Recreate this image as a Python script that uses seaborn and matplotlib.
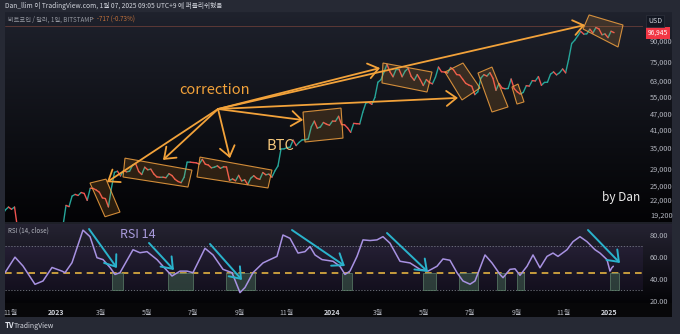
import numpy as np
import pandas as pd
import matplotlib
matplotlib.use("Agg")
import matplotlib.pyplot as plt
import matplotlib.dates as mdates
import matplotlib.transforms as mtrans
from matplotlib.patches import Polygon, Rectangle
from matplotlib.ticker import NullLocator
import seaborn as sns

# ---------------- data ----------------
price_start = "2022-10-22"          # BTC/USD daily closes, sampled every 4 days
price_step = "4D"
close = [
    19200, 20100, 20600, 20200, 20600, 17000, 16900, 16700, 16600, 16450,
    16950, 16950, 17130, 17780, 16780, 16830, 16840, 16630, 16680, 16950,
    17440, 20900, 20680, 22700, 23050, 22830, 23440, 23250, 21860, 24340,
    24300, 23950, 23500, 22350, 22210, 20630, 24370, 28030, 28320, 27140,
    28480, 28170, 28330, 29900, 30300, 28250, 27500, 29340, 28670, 28850,
    27630, 26920, 26830, 26850, 26720, 27700, 27250, 26350, 25850, 25580,
    26840, 30690, 30700, 30590, 30510, 30170, 31470, 30140, 29910, 29180,
    29350, 29700, 29040, 29440, 29400, 26100, 26440, 26010, 27300, 25970,
    26250, 25160, 26600, 27210, 26580, 26350, 27990, 27430, 27600, 26860,
    28420, 29670, 34500, 34530, 34940, 35040, 37320, 35550, 36600, 37400,
    37450, 37720, 41990, 44170, 41490, 41930, 43650, 43010, 42580, 44180,
    44160, 46120, 42850, 42740, 41580, 40000, 43300, 43190, 43090, 47770,
    51840, 52140, 51280, 54500, 62400, 63800, 68300, 73100, 68400, 65500,
    69900, 69900, 65500, 68900, 70600, 65700, 63500, 66800, 63800, 60600,
    63900, 62300, 61500, 65200, 71400, 68500, 68300, 67700, 71100, 69600,
    66800, 66500, 64100, 61800, 60900, 60200, 55900, 57300, 64700, 66700,
    65900, 67900, 64600, 58100, 61700, 59300, 58900, 59000, 64200, 59000,
    57300, 56200, 57000, 60500, 60300, 63300, 63100, 65600, 60700, 62300,
    62400, 67000, 68400, 66600, 67900, 70200, 67800, 76500, 88000, 90600,
    94200, 98000, 95600, 95900, 99900, 96600, 101400, 100200, 95100, 95800,
    92700, 98100, 96900,
]
last_price_label = "96,945"
hline_price = 102400

base_date = "2022-11-01"           # day offsets below count from this date
rsi_day = [
    -6.6, 6.6, 17.2, 33.0, 43.6, 55.5, 68.7, 72.7, 81.9, 96.4,
    105.7, 114.9, 122.9, 132.1, 138.7, 145.3, 162.5, 171.7, 181.0, 194.2,
    202.1, 214.0, 224.6, 233.8, 241.7, 257.6, 268.2, 281.4, 293.3, 303.8,
    310.4, 321.0, 334.2, 343.5, 352.7, 360.6, 369.9, 380.5, 389.7, 396.3,
    402.9, 412.2, 426.7, 435.9, 442.5, 449.1, 458.4, 466.3, 475.6, 484.8,
    492.7, 502.0, 515.2, 528.4, 541.6, 552.2, 564.1, 572.0, 581.2, 590.5,
    598.4, 607.7, 614.3, 627.5, 636.7, 647.3, 651.3, 660.5, 667.1, 673.7,
    683.0, 690.9, 700.1, 709.4, 717.3, 723.9, 735.8, 743.7, 752.9, 762.2,
    772.8, 779.4, 788.6, 792.6, 795.0, 797.0,
]
rsi_value = [
    46, 60, 52, 35.5, 38.5, 50.7, 47.4, 46, 55, 84.4,
    78.5, 59.5, 57.8, 50.7, 44.4, 46, 66.7, 64, 65, 57.8,
    51.8, 43, 47.4, 47.4, 46, 68, 62, 49, 46, 28,
    32.6, 46, 54.8, 57.8, 60.7, 80, 77, 63.7, 65, 69.6,
    62, 57.8, 56.3, 51.8, 44.4, 47.4, 60.7, 75.6, 75, 75.6,
    78.5, 72.6, 56.3, 54.8, 49, 47.4, 51.8, 58.4, 57.2, 46,
    38.5, 35.6, 38.5, 62, 54.8, 44.4, 41.5, 49, 49.5, 43.6,
    51.8, 62, 50.4, 60.7, 63.7, 60.7, 66.7, 74, 78.5, 74,
    66.7, 63.7, 57.8, 47.4, 50.4, 51.8,
]

price_ticks = [19200, 22000, 25000, 29000, 35000, 41000, 47000, 55000, 63000, 75000, 90000]
rsi_ticks = [20, 40, 60, 80]
time_ticks = ["2022-11-01", "2023-01-01", "2023-03-01", "2023-05-01", "2023-07-01",
              "2023-09-01", "2023-11-01", "2024-01-01", "2024-03-01", "2024-05-01",
              "2024-07-01", "2024-09-01", "2024-11-01", "2025-01-01"]
time_labels = ["11월", "2023", "3월", "5월", "7월", "9월", "11월", "2024",
               "3월", "5월", "7월", "9월", "11월", "2025"]
rsi_upper, rsi_lower, rsi_mid = 70, 30, 46

# hand-drawn annotations (day offset, value)
hub = (274.8, 49200)
corr_tips = [(128.1, 25700), (202.1, 31300), (290.6, 31800), (387.1, 44600),
             (488.8, 70800), (591.8, 54300), (759.6, 103700)]
corr_boxes = [
    [(105.7, 25500), (126.8, 26400), (145.3, 19700), (125.5, 18900)],
    [(151.9, 31800), (240.4, 28600), (235.1, 24600), (149.3, 26900)],
    [(251.0, 32100), (346.1, 28600), (340.8, 24400), (247.0, 26900)],
    [(387.1, 47900), (437.3, 49600), (439.9, 38000), (389.7, 36700)],
    [(492.7, 74000), (557.5, 68300), (550.9, 57200), (491.4, 62000)],
    [(574.6, 68300), (598.4, 74000), (620.9, 59300), (597.1, 53300)],
    [(618.2, 67700), (636.7, 71400), (657.9, 50100), (636.7, 47900)],
    [(663.1, 59800), (671.1, 61400), (679.0, 52400), (669.7, 51400)],
    [(757.0, 100100), (765.0, 113400), (809.8, 103700), (803.2, 85300)],
]
rsi_boxes = [(134.7, 149.3), (208.7, 241.7), (285.3, 323.6), (438.6, 451.8),
             (545.6, 562.7), (593.1, 618.2), (643.3, 653.9), (669.7, 679.0),
             (792.6, 804.5)]
rsi_arrows = [((104.4, 85.4), (141.3, 50.2)), ((183.6, 72.8), (216.6, 48.4)),
              ((264.2, 71.9), (306.5, 39.4)), ((372.5, 84.5), (442.5, 52.0)),
              ((498.0, 81.8), (552.2, 46.6)), ((763.5, 84.5), (805.8, 54.7))]
text_correction = (270.8, 58200)
text_btc = (356.7, 35400)
text_bydan = (807.1, 22500)
text_rsi = (169.1, 80.9)
x_range = (-6.6, 836.2)
price_range = (18040, 116400)
rsi_range = (18.63, 89.93)

# ---------------- style ----------------
sns.set_theme(style="dark")
plt.rcParams["font.family"] = ["Noto Sans CJK KR", "DejaVu Sans"]
plt.rcParams["axes.unicode_minus"] = False

W, H = 680, 334
fig = plt.figure(figsize=(W / 100, H / 100), dpi=100)

BASE = pd.Timestamp(base_date)
def dn(d):
    return mdates.date2num(BASE + pd.Timedelta(days=float(d)))

# background (outer frame + dark gradient panes)
img = np.zeros((H, W, 3))
img[:, :] = np.array([38, 41, 52]) / 255
def grad(r0, r1, c0, c1, power=1.0):
    t = np.linspace(0, 1, r1 - r0)[:, None] ** power
    col = (np.array(c0)[None, :] * (1 - t) + np.array(c1)[None, :] * t) / 255
    img[r0:r1, 5:672] = col[:, None, :]
grad(12, 222, (31, 34, 45), (3, 3, 5), 0.9)
img[222:224, 5:672] = np.array([30, 32, 40]) / 255
grad(224, 303, (37, 35, 50), (4, 4, 7), 1.0)
img[303:317, 5:672] = np.array([7, 7, 9]) / 255
bg = fig.add_axes([0, 0, 1, 1], zorder=0)
bg.imshow(img, extent=(0, 1, 0, 1), aspect="auto", interpolation="bilinear")
bg.set_axis_off()

def fx(px):
    return px / W
def fy(py):
    return 1 - py / H

# ---------------- price pane ----------------
ax = fig.add_axes([fx(5), fy(222), (643 - 5) / W, (222 - 12) / H], zorder=2)
ax.set_facecolor("none")
dates = pd.date_range(price_start, periods=len(close), freq=price_step)
rows = []
for i in range(1, len(close)):
    d = "up" if close[i] >= close[i - 1] else "down"
    rows.append((i, dates[i - 1], close[i - 1], d))
    rows.append((i, dates[i], close[i], d))
seg = pd.DataFrame(rows, columns=["seg", "date", "close", "dir"])
sns.lineplot(data=seg, x="date", y="close", hue="dir", units="seg", estimator=None,
             palette={"up": "#26a69a", "down": "#ef5350"}, lw=1.0, legend=False,
             sort=False, ax=ax, zorder=3)
ax.set_yscale("log")
ax.set_ylim(*price_range)
ax.set_xlim(dn(x_range[0]), dn(x_range[1]))
ax.yaxis.set_minor_locator(NullLocator())
ax.yaxis.tick_right()
ax.set_yticks(price_ticks)
ax.set_yticklabels([f"{v:,}" for v in price_ticks])
ax.tick_params(axis="y", length=0, pad=5, labelsize=5.3, labelcolor="#b2b5be")
ax.tick_params(axis="x", length=0, labelbottom=False)
ax.set_xlabel("")
ax.set_ylabel("")
ax.grid(False)
for s in ax.spines.values():
    s.set_visible(False)

ax.axhline(hline_price, color="#c0604a", lw=0.6, alpha=0.45, zorder=1)

orange = "#f2a23a"
for box in corr_boxes:
    verts = [(dn(d), p) for d, p in box]
    ax.add_patch(Polygon(verts, closed=True, facecolor=(0.95, 0.62, 0.2, 0.16),
                         edgecolor=(0.95, 0.63, 0.25, 0.85), lw=0.8, zorder=4))
for d, p in corr_tips:
    ax.annotate("", xy=(dn(d), p), xytext=(dn(hub[0]), hub[1]),
                arrowprops=dict(arrowstyle="->,head_length=0.6,head_width=0.45",
                                color=orange, lw=1.3, shrinkA=0, shrinkB=0),
                zorder=5)
ax.text(dn(text_correction[0]), text_correction[1], "correction", color=orange,
        fontsize=10.5, ha="center", va="center", zorder=6)
ax.text(dn(text_btc[0]), text_btc[1], "BTC", color="#f4c77c",
        fontsize=10.5, ha="center", va="center", zorder=6)
ax.text(dn(text_bydan[0]), text_bydan[1], "by Dan", color="#ececec",
        fontsize=8.5, ha="center", va="center", zorder=6)

# last price label and USD box
trans = mtrans.blended_transform_factory(ax.transAxes, ax.transData)
ax.text(1.008, close[-1], last_price_label, transform=trans, fontsize=4.8,
        color="white", ha="left", va="center", zorder=7, clip_on=False,
        bbox=dict(boxstyle="square,pad=0.3", fc="#f23645", ec="none"))
fig.text(fx(648), fy(21), "USD", fontsize=5, color="#d1d4dc", ha="left", va="center",
         bbox=dict(boxstyle="square,pad=0.35", fc="#131722", ec="#2a2e39", lw=0.6))

# ---------------- RSI pane ----------------
ax2 = fig.add_axes([fx(5), fy(303), (643 - 5) / W, (303 - 224) / H], zorder=2)
ax2.set_facecolor("none")
rsi_dates = [BASE + pd.Timedelta(days=float(d)) for d in rsi_day]
ax2.axhspan(rsi_lower, rsi_upper, color="#7e57c2", alpha=0.09, lw=0, zorder=0)
ax2.axhline(rsi_upper, color="#787b86", lw=0.6, ls=(0, (1.5, 2)), zorder=1)
ax2.axhline(rsi_lower, color="#787b86", lw=0.6, ls=(0, (1.5, 2)), zorder=1)
ax2.axhline(rsi_mid, color="#e3b341", lw=1.2, ls=(0, (4, 3)), zorder=2)
for a, b in rsi_boxes:
    ax2.add_patch(Rectangle((dn(a), rsi_lower), dn(b) - dn(a), rsi_mid - rsi_lower,
                            facecolor=(0.25, 0.38, 0.31, 0.55),
                            edgecolor=(0.38, 0.52, 0.43, 0.8), lw=0.6, zorder=2))
sns.lineplot(x=rsi_dates, y=rsi_value, color="#a892e2", lw=1.1, ax=ax2, zorder=3)
for (d0, v0), (d1, v1) in rsi_arrows:
    ax2.annotate("", xy=(dn(d1), v1), xytext=(dn(d0), v0),
                 arrowprops=dict(arrowstyle="->,head_length=0.6,head_width=0.45",
                                 color="#2ab3cc", lw=1.4, shrinkA=0, shrinkB=0),
                 zorder=5)
ax2.text(dn(text_rsi[0]), text_rsi[1], "RSI 14", color="#a99bdc", fontsize=9,
         ha="center", va="center", zorder=6)
ax2.set_ylim(*rsi_range)
ax2.set_xlim(dn(x_range[0]), dn(x_range[1]))
ax2.yaxis.tick_right()
ax2.set_yticks(rsi_ticks)
ax2.set_yticklabels([f"{v:.2f}" for v in rsi_ticks])
ax2.tick_params(axis="y", length=0, pad=5, labelsize=5.3, labelcolor="#b2b5be")
ax2.set_xticks([mdates.date2num(pd.Timestamp(t)) for t in time_ticks])
ax2.set_xticklabels(time_labels)
ax2.tick_params(axis="x", length=0, pad=4, labelsize=5, labelcolor="#b2b5be")
for lab in ax2.get_xticklabels():
    if lab.get_text().isdigit():
        lab.set_fontweight("bold")
        lab.set_color("#d1d4dc")
ax2.set_xlabel("")
ax2.set_ylabel("")
ax2.grid(False)
for s in ax2.spines.values():
    s.set_visible(False)

# ---------------- header / footer texts ----------------
fig.text(fx(5), fy(6), "Dan_llim 이 TradingView.com, 1월 07, 2025 09:05 UTC+9 에 퍼블리쉬했음",
         fontsize=4.8, color="#d1d4dc", ha="left", va="center")
fig.text(fx(8), fy(20), "비트코인 / 달러, 1일, BITSTAMP", fontsize=4.5, color="#9598a1",
         ha="left", va="center", zorder=5)
fig.text(fx(92), fy(20), "· -717 (-0.73%)", fontsize=4.5, color="#c0703a",
         ha="left", va="center", zorder=5)
fig.text(fx(8), fy(231), "RSI (14, close)", fontsize=4.5, color="#b2b5be",
         ha="left", va="center", zorder=5)
fig.text(fx(5), fy(326), "TV", fontsize=5.5, color="#e0e3eb", fontweight="bold",
         ha="left", va="center")
fig.text(fx(14), fy(326), "TradingView", fontsize=5, color="#d1d4dc",
         ha="left", va="center")

fig.savefig("out.png", dpi=100)
